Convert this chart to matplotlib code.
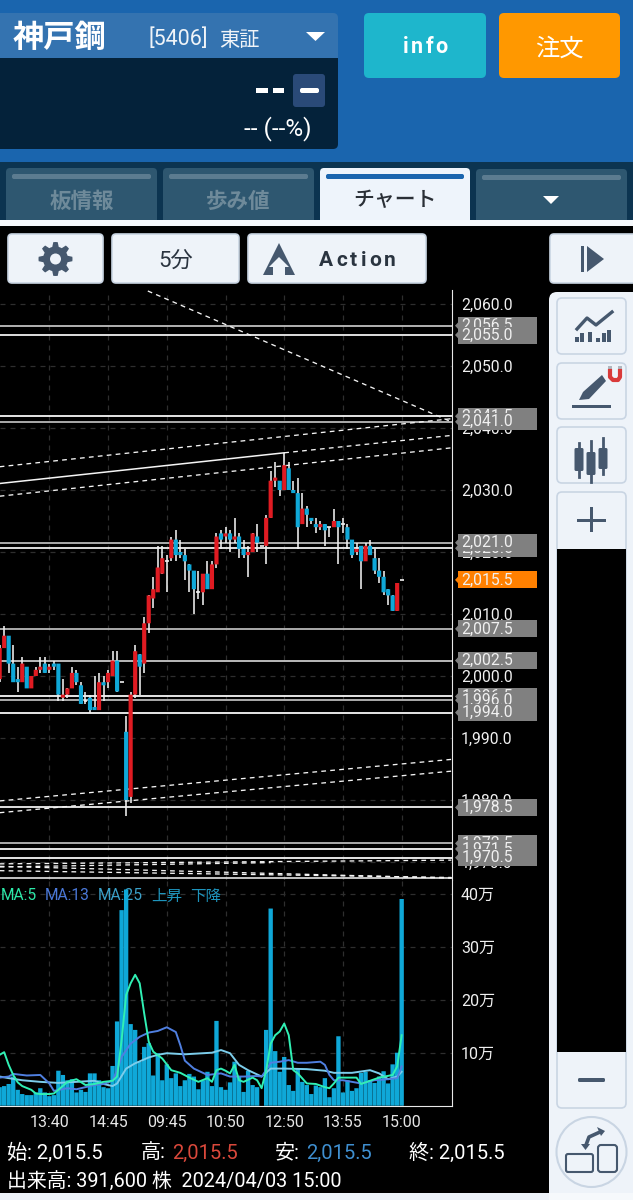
import numpy as np
import matplotlib
matplotlib.use('Agg')
import matplotlib.pyplot as plt
from matplotlib.patches import FancyBboxPatch, Rectangle, Polygon, Circle

plt.rcParams['font.family'] = ['Roboto', 'Noto Sans CJK JP', 'DejaVu Sans']

# 5 minute bars
opens = [1999.5, 2004.5, 2006.5, 2002, 1999.5, 1999, 2001.5, 1998, 2000, 2001, 2002, 2001, 2002, 2002, 1996.5,
         1997, 1998, 2000.5, 1998.5, 1996, 1996.5, 1995, 1994.5, 1999, 1999, 2000, 2002.5, 1999, 1991, 1980.5,
         1997, 2003.5, 2002, 2008.5, 2012.5, 2013.5, 2016.5, 2018.5, 2019, 2022, 2020, 2019.5, 2018, 2017, 2013.5,
         2013.5, 2016.5, 2014, 2018, 2023, 2022.5, 2023, 2022, 2022.5, 2020.5, 2019.5, 2020, 2022.5, 2021, 2021,
         2025.5, 2031.5, 2031.5, 2030, 2033.5, 2030, 2029.5, 2024.5, 2027, 2025.5, 2024.5, 2024, 2024.5, 2024, 2024,
         2025, 2024.5, 2024, 2022, 2020, 2021, 2018.5, 2021, 2019, 2017, 2016, 2014, 2013, 2010.5, 2015.5]
highs = [2005, 2008, 2006.5, 2005, 2001.5, 2003, 2001.5, 2000, 2001.5, 2003, 2003, 2002, 2002.5, 2002, 1999.5,
         1998, 2001.5, 2001, 1999, 1997.5, 1997, 2000, 2000.5, 2000, 2001, 2004, 2004, 1999, 1993.5, 1997.5,
         2005, 2003.5, 2009.5, 2013, 2016, 2021, 2021, 2019.5, 2022.5, 2023.5, 2022, 2020.5, 2018, 2017, 2017,
         2016.5, 2018.5, 2018.5, 2023, 2023.5, 2024, 2023.5, 2025.5, 2023, 2022, 2021, 2023, 2024.5, 2021, 2026,
         2033, 2034.5, 2031.5, 2036, 2034.5, 2031.5, 2032, 2029.5, 2027.5, 2025.5, 2025.5, 2025, 2024.5, 2024, 2027,
         2025, 2025.5, 2024.5, 2022, 2021.5, 2021, 2021.5, 2022, 2020.5, 2019, 2017, 2014, 2013, 2015, 2015.5]
lows = [1999, 2004.5, 2000.5, 1999, 1997.5, 1999, 1998, 1998, 2000, 2000.5, 2000.5, 2000.5, 2001, 1996, 1996,
        1996.5, 1998, 1998.5, 1995.5, 1995.5, 1994, 1994.5, 1994.5, 1996, 1998, 2000, 1997.5, 1999, 1977.5, 1979.5,
        1996.5, 1997, 2000.5, 2007, 2011, 2013.5, 2016.5, 2013.5, 2018.5, 2018.5, 2019, 2015.5, 2013.5, 2010, 2012.5,
        2011.5, 2014, 2014, 2017.5, 2020.5, 2021.5, 2020, 2021.5, 2019, 2019, 2016, 2020, 2020, 2021, 2018,
        2025.5, 2030.5, 2029, 2030, 2030, 2029.5, 2020.5, 2024.5, 2024, 2024.5, 2023, 2023.5, 2021, 2022.5, 2024,
        2018, 2023, 2020.5, 2019, 2019.5, 2014, 2018.5, 2019.5, 2016.5, 2015, 2013, 2011.5, 2010.5, 2010.5, 2015.5]
closes = [2004.5, 2006.5, 2002, 1999, 1999, 2002, 1998, 2000, 2001, 2001.5, 2000.5, 2001.5, 2001.5, 1997, 1997,
          1998, 2000.5, 1999, 1995.5, 1996, 1994.5, 1994.5, 1999, 1998.5, 2000.5, 2002.5, 1997.5, 1999, 1980, 1997,
          2004, 2001.5, 2008.5, 2013, 2014, 2017.5, 2019, 2018.5, 2022, 2019.5, 2019.5, 2018.5, 2017, 2014, 2013.5,
          2016.5, 2014, 2018, 2022.5, 2022, 2023, 2022, 2022.5, 2020.5, 2019.5, 2020, 2023, 2021.5, 2021, 2025.5,
          2031.5, 2032, 2030, 2034, 2030, 2029.5, 2024, 2027, 2026, 2025, 2024, 2024.5, 2023.5, 2024, 2025,
          2024, 2024.5, 2022, 2019.5, 2020.5, 2018.5, 2021, 2019.5, 2017, 2016, 2013.5, 2013, 2010.5, 2015, 2015.5]

# volume in 万株
volumes = [.35, .37, .41, .55, .30, .22, .20, .20, .25, .33, .25, .18, .20, .66, .58, .48, .50, .25, .30, .26,
           .61, .61, .48, .35, .33, .75, 1.59, 3.69, 4.08, 1.54, 1.43, .83, 1.11, 1.18, .57, .99, .48, .78, .52, .61,
           .37, .48, .60, .55, .31, .48, .64, .37, 1.60, .35, .30, .44, .83, .55, .26, .66, .39, .35, 0, 1.43,
           3.72, 1.03, .64, .92, .39, .28, .69, .45, .39, .22, .38, .35, .52, .16, .33, 1.31, .25, .48, .28, .33,
           .62, .64, .48, .43, .55, .65, .42, .78, 1.00, 3.90]

ma5_idx = [0, 1, 2, 3, 4, 5, 7, 8, 9, 11, 12, 13, 15, 17, 19, 21, 23, 25, 26, 27, 28, 29, 30, 31, 32, 33, 34, 36, 38, 40,
           42, 44, 46, 47, 48, 49, 50, 51, 52, 53, 54, 56, 57, 58, 59, 60, 61, 62, 63, 64, 65, 66, 68, 70, 72, 73, 74,
           75, 77, 79, 80, 82, 84, 87, 88, 89]
ma5_val = [.96, 1.01, .77, .58, .44, .37, .30, .23, .22, .22, .23, .30, .45, .50, .39, .41, .45, .47, .55, 1.24, 2.09,
           2.31, 2.47, 2.31, 1.74, 1.21, 1.02, .89, .67, .62, .53, .45, .52, .45, .67, .70, .66, .61, .77, .48, .45,
           .53, .48, .33, .67, 1.17, 1.33, 1.40, 1.55, 1.33, .67, .61, .42, .41, .35, .33, .42, .53, .53, .53, .41,
           .47, .53, .58, .74, 1.33]
ma13_idx = [0, 2, 3, 6, 9, 11, 12, 15, 17, 19, 21, 23, 25, 26, 27, 29, 31, 33, 35, 37, 39, 40, 41, 43, 46, 48, 49, 51,
            54, 57, 58, 59, 60, 62, 64, 66, 68, 71, 72, 73, 74, 76, 78, 80, 83, 86, 88, 89]
ma13_val = [.53, .55, .60, .57, .58, .42, .28, .33, .31, .35, .39, .41, .47, .67, .92, 1.17, 1.30, 1.38, 1.41, 1.48,
            1.39, 1.14, .85, .70, .58, .60, .61, .55, .55, .56, .55, .67, .81, .83, .86, .81, .81, .83, .77, .58,
            .48, .48, .45, .42, .48, .50, .52, .74]
ma25_idx = [0, 2, 5, 9, 13, 17, 21, 23, 25, 26, 28, 30, 33, 35, 37, 41, 47, 49, 51, 53, 55, 58, 60, 63, 68, 72, 74, 78,
            82, 84, 86, 88, 89]
ma25_val = [.55, .52, .48, .45, .43, .45, .47, .41, .37, .42, .70, .80, .91, .96, .99, .97, 1.0, 1.05, .99, .77, .67,
            .55, .70, .70, .69, .66, .62, .62, .67, .61, .50, .55, .64]

price_ticks = [2060, 2050, 2040, 2030, 2020, 2010, 2000, 1990, 1980, 1970]
price_tick_labels = ['2,060.0', '2,050.0', '2,040.0', '2,030.0', '2,020.0', '2,010.0', '2,000.0', '1,990.0',
                     '1,980.0', '1,970.0']
volume_ticks = [1, 2, 3, 4]
volume_tick_labels = ['10万', '20万', '30万', '40万']
time_ticks = [11, 24, 37, 50, 63, 76, 89]
time_labels = ['13:40', '14:45', '09:45', '10:50', '12:50', '13:55', '15:00']

# drawn levels and their tags, in drawing order
level_prices = [2056.5, 2055, 2041.9, 2041, 2020.6, 2021.5, 2007.6, 2002.5, 1996.7, 1996.1, 1994.1, 1978.8,
                1973, 1972.1, 1970.7]
level_labels = ['2,056.5', '2,055.0', '2,041.5', '2,041.0', '2,020.5', '2,021.0', '2,007.5', '2,002.5', '1,996.5',
                '1,996.0', '1,994.0', '1,978.5', '1,972.5', '1,971.5', '1,970.5']
level_colors = ['#C0C0C0', '#F0F0F0', '#F8F8F8', '#B8B8B8', '#F0F0F0', '#B8B8B8', '#B8B8B8', '#C8C8C8', '#F8F8F8',
                '#B8B8B8', '#F8F8F8', '#F0F0F0', '#B8B8B8', '#F8F8F8', '#F8F8F8']
floor_level = 1967.4
last_price = 2015.5

# trend lines: bar index and price at both ends
trend_start = [(32.8, 2062.1), (0, 2033.75), (63, 2036.0), (0, 2029.0), (0, 1979.85), (0, 1977.95), (0, 1969.7),
               (0, 1969.2), (0, 1969.3), (0, 1968.6)]
trend_end = [(100, 2041.0), (100, 2041.5), (100, 2038.8), (100, 2036.8), (100, 1986.55), (100, 1984.65), (100, 1970.3),
             (60, 1969.9), (100, 1967.4), (100, 1967.5)]
solid_start = (0, 2031.05)
solid_end = (63, 2036.0)

W, H = 633, 1200
BAR_PX = 4.517
LAST_BAR_X = 401.67
RED = '#E01B22'
BLUE = '#0FA8D8'
PANEL = '#EEF3F9'
EDGE = '#C9D5E3'
ICON = '#46586E'
CJK = ['Noto Sans CJK JP', 'DejaVu Sans']

fig = plt.figure(figsize=(W / 100, H / 100), dpi=100, facecolor='black')


def axes_px(x0, y0, x1, y1):
    return fig.add_axes([x0 / W, 1 - y1 / H, (x1 - x0) / W, (y1 - y0) / H])


def price_at(y):
    return 2060 - (y - 304) / 6.2


ui = axes_px(0, 0, W, H)
ui.set_xlim(0, W)
ui.set_ylim(H, 0)
ui.axis('off')


def box(x0, y0, x1, y1, fc, ec='none', r=4, lw=1.2):
    ui.add_patch(FancyBboxPatch((x0, y0), x1 - x0, y1 - y0, boxstyle=f'round,pad=0,rounding_size={r}',
                                fc=fc, ec=ec, lw=lw))


def rect(x0, y0, x1, y1, fc):
    ui.add_patch(Rectangle((x0, y0), x1 - x0, y1 - y0, fc=fc, ec='none'))


def poly(points, fc):
    ui.add_patch(Polygon(points, closed=True, fc=fc, ec='none'))


def label(x, y, s, size, color='white', ha='center', weight='normal', family=None):
    return ui.text(x, y, s, fontsize=size, color=color, ha=ha, va='center', weight=weight, family=family or CJK)


def spaced(x0, x1, y, s, size, color, weight='normal'):
    # the app draws these with wide letter spacing: set the letters one by one
    renderer = fig.canvas.get_renderer()
    parts = [label(x0, y, ch, size, color=color, ha='left', weight=weight, family=['Roboto']) for ch in s]
    widths = [p.get_window_extent(renderer).width for p in parts]
    gap = (x1 - x0 - sum(widths)) / (len(s) - 1)
    x = x0
    for p, w in zip(parts, widths):
        p.set_x(x)
        x += w + gap


# header
rect(0, 0, W, 162, '#1A65AE')
box(-10, 13, 338, 70, '#3473B0', r=5)
box(-10, 58, 338, 149, '#04223A', r=5)
rect(-10, 58, 338, 70, '#04223A')
label(13, 38, '神戸鋼', 22.5, ha='left', weight='bold')
label(148, 39, '[5406]', 15.5, ha='left', color='#F0F4F8', family=['Roboto'])
label(239, 41, '東証', 14.6, ha='center', color='#F0F4F8')
poly([(306, 32), (325, 32), (315.5, 41)], 'white')
rect(256, 88, 268, 93, 'white')
rect(273, 88, 284, 93, 'white')
box(293, 74, 325, 107, '#2A4A78', r=3)
box(300, 88, 319, 93, 'white', r=2)
label(312, 129, '-- (--%)', 17.5, ha='right', family=['Roboto'])
box(364, 13, 486, 78, '#1EB6CC', r=5)
spaced(403, 448, 47, 'info', 15.5, 'white', weight='bold')
box(499, 13, 620, 78, '#FF9800', r=5)
label(559, 49, '注文', 17.5)

# tabs
rect(0, 162, W, 220, '#0C3450')
for x0, x1, s in [(6, 157, '板情報'), (163, 314, '歩み値')]:
    box(x0, 168, x1, 226, '#2E5770', r=4)
    box(x0 + 6, 174, x1 - 6, 179, '#5C7C90', r=2)
    label((x0 + x1) / 2, 201, s, 15.5, color='#6E8A9A', weight='bold')
box(320, 168, 470, 226, '#EEF4FB', r=4)
box(326, 174, 464, 179, '#1A65AE', r=2)
label(395, 200, 'チャート', 15, color='#2A2F36', weight='medium')
box(476, 169, 627, 226, '#2E5770', r=4)
box(482, 175, 621, 180, '#5C7C90', r=2)
poly([(543, 196), (559, 196), (551, 204)], 'white')
rect(0, 220, W, 226, '#F6F9FC')
rect(0, 226, W, H, 'black')

# toolbar
for x0, x1 in [(8, 103), (112, 239), (248, 426), (550, 640)]:
    box(x0, 234, x1, 283, PANEL, ec=EDGE)
angles = np.linspace(0, 2 * np.pi, 48, endpoint=False)
radius = np.where((angles * 8 / (2 * np.pi) + 0.25) % 1 < 0.5, 17, 12.5)
poly(np.column_stack([55.5 + radius * np.sin(angles), 259 + radius * np.cos(angles)]), ICON)
ui.add_patch(Circle((55.5, 259), 5.5, fc=PANEL, ec='none'))
label(176, 261, '5分', 16, color='#2A3440', family=['Roboto', 'Noto Sans CJK JP'])
poly([(279, 243), (295, 275), (285, 275), (285, 267), (289, 267), (279, 257), (269, 267), (273, 267), (273, 275),
      (263, 275)], ICON)
spaced(319, 396, 260, 'Action', 15, '#2A3440', weight='bold')
rect(581, 246, 584, 272, ICON)
poly([(587, 246), (604, 259), (587, 272)], ICON)

# side panel
box(549, 292, 660, 1210, PANEL, r=8)
for y0, y1 in [(298, 354), (363, 419), (427, 483), (492, 1108)]:
    box(557, y0, 626, y1, PANEL, ec=EDGE, r=5)
# chart icon
ui.plot([577, 587, 596, 612], [329, 318, 325, 312], color=ICON, lw=2.4)
for x, y in [(577, 337), (582, 333), (590, 332), (598, 338), (604, 333), (609, 330)]:
    rect(x - 2, y, x + 2, 342, ICON)
# pen icon
poly([(579, 400), (583, 392), (602, 375), (606, 381), (589, 399)], ICON)
rect(572, 405, 611, 408, ICON)
ui.plot([610, 610, 613, 618, 620, 620], [371, 377, 380, 380, 377, 371], color='#D93A3A', lw=3)
rect(608, 366, 612, 371, '#B0B8C0')
rect(618, 366, 622, 371, '#B0B8C0')
# candle icon
for x, y0, y1, t0, t1 in [(579, 448, 471, 443, 477), (591, 452, 475, 441, 482), (603, 448, 469, 438, 474)]:
    ui.plot([x, x], [t0, t1], color=ICON, lw=2)
    box(x - 4.5, y0, x + 4.5, y1, ICON, r=1.5)
rect(577, 518.5, 606, 521.5, ICON)
rect(590, 507, 593, 532, ICON)
rect(557, 549, 626, 1052, 'black')
box(578, 1078, 605, 1082, ICON, r=1.5)
# rotate button
ui.add_patch(Circle((591.5, 1152), 35, fc=PANEL, ec=EDGE, lw=1.5))
box(566, 1154, 593, 1172, PANEL, ec=ICON, r=2, lw=1.5)
box(598, 1145, 617, 1172, PANEL, ec=ICON, r=3, lw=1.5)
ui.plot([586, 589, 600], [1145, 1137, 1132], color=ICON, lw=2.6)
poly([(581, 1144), (590, 1144), (585.5, 1150)], ICON)
poly([(597, 1127), (601, 1136), (605, 1131)], ICON)
rect(0, 1193, 549, H, '#EEF3F9')
rect(549, 1193, W, H, '#F6F9FC')

# footer
label(7, 1153, '始: 2,015.5', 14.5, ha='left', family=['Roboto', 'Noto Sans CJK JP'])
label(141, 1153, '高:', 14.5, ha='left', family=['Roboto', 'Noto Sans CJK JP'])
label(172, 1153, '2,015.5', 14.5, ha='left', color='#D9483B', family=['Roboto'])
label(275, 1153, '安:', 14.5, ha='left', family=['Roboto', 'Noto Sans CJK JP'])
label(306, 1153, '2,015.5', 14.5, ha='left', color='#3F8FD0', family=['Roboto'])
label(409, 1153, '終: 2,015.5', 14.5, ha='left', family=['Roboto', 'Noto Sans CJK JP'])
label(7, 1182, '出来高: 391,600 株  2024/04/03 15:00', 14.3, ha='left', family=['Roboto', 'Noto Sans CJK JP'])

# price chart
idx = np.arange(len(opens))
xlim = (89 - LAST_BAR_X / BAR_PX, 89 + (451.5 - LAST_BAR_X) / BAR_PX)
ax = axes_px(0, 290, 451.5, 880)
ax.set_facecolor('black')
ax.set_xlim(*xlim)
ax.set_ylim(price_at(880), price_at(290))
ax.set_axisbelow(True)
ax.grid(True, color='#2E2E2E', ls=(0, (4, 4)), lw=0.9)
ax.set_xticks(time_ticks)
ax.set_yticks(price_ticks)
ax.set_yticklabels(price_tick_labels)
ax.tick_params(axis='x', bottom=False, labelbottom=False, length=0)
ax.tick_params(axis='y', left=False, labelleft=False, right=False, labelright=True, length=0, pad=6.8, labelsize=11.3,
               labelcolor='#F0F0F0')
for name, spine in ax.spines.items():
    spine.set_visible(name == 'right')
    spine.set_color('#E8E8E8')

for p, c in zip(level_prices, level_colors):
    ax.axhline(p, color=c, lw=1.3, zorder=2)
ax.axhline(floor_level, color='#F8F8F8', lw=1.1, zorder=2)
for (x0, p0), (x1, p1) in zip(trend_start, trend_end):
    ax.plot([x0, x1], [p0, p1], color='#F4F4F4', lw=0.95, ls=(0, (3.6, 3.2)), zorder=2)
ax.plot([solid_start[0], solid_end[0]], [solid_start[1], solid_end[1]], color='#F4F4F4', lw=1.1, zorder=2)

o, h, l, c = map(np.array, (opens, highs, lows, closes))
ax.vlines(idx, l, h, color='#F0F0F0', lw=1.15, zorder=3)
up = c >= o
candles = ax.bar(idx, np.abs(c - o), bottom=np.minimum(o, c), width=0.92, color=np.where(up, RED, BLUE), lw=0, zorder=4)
for patch in candles:
    patch.set_snap(False)
flat = c == o
ax.hlines(c[flat], idx[flat] - 0.43, idx[flat] + 0.43, color='#F0F0F0', lw=1.2, zorder=4)

# price tags sit over the tick labels, later tags over earlier ones
tags = axes_px(451.5, 290, 549, 880)
tags.patch.set_alpha(0)
tags.axis('off')
tags.set_xlim(451.5, 549)
tags.set_ylim(ax.get_ylim())
tag_half = 8.5 / 6.2


def price_tag(p, s, color, z):
    tags.add_patch(Rectangle((458.5, p - tag_half), 78.5, 2 * tag_half, fc=color, ec='none', zorder=z))
    tags.add_patch(Polygon([(455, p), (458.5, p + 0.6), (458.5, p - 0.6)], closed=True, fc=color, ec='none', zorder=z))
    tags.text(461.5, p, s, fontsize=11.3, color='#F0F0F0', va='center', ha='left', zorder=z + 0.5)


for n, (p, s) in enumerate(zip(level_prices, level_labels)):
    price_tag(p, s, '#808080', 2 + n)
price_tag(last_price, '2,015.5', '#FF8000', 30)

# volume chart
vol = axes_px(0, 880, 451.5, 1105.7)
vol.set_facecolor('black')
vol.set_xlim(*xlim)
vol.set_ylim(0, 225.7 / 53)
vol.set_axisbelow(True)
vol.grid(True, color='#2E2E2E', ls=(0, (4, 4)), lw=0.9)
vol.set_xticks(time_ticks)
vol.set_xticklabels(time_labels)
vol.set_yticks(volume_ticks)
vol.set_yticklabels(volume_tick_labels)
vol.tick_params(axis='x', bottom=False, length=0, labelsize=11.5, labelcolor='#E6E6E6', pad=7)
vol.tick_params(axis='y', left=False, labelleft=False, right=False, labelright=True, length=0, pad=6.8, labelsize=11.5,
                labelcolor='#F0F0F0')
for name, spine in vol.spines.items():
    spine.set_visible(name in ('right', 'bottom'))
    spine.set_color('#E8E8E8')

for x, s, col in [(1, 'MA:5', '#2CE8A8'), (45, 'MA:13', '#4A78D8'), (98, 'MA:25', '#3AA0C8'), (151, '上昇', '#1E94BC'),
                  (190, '下降', '#1E94BC')]:
    vol.annotate(s, xy=(x, 896), xycoords=ui.transData, fontsize=11.2, color=col, va='center', ha='left', zorder=1)
bars = vol.bar(idx, volumes, width=0.96, color=BLUE, lw=0, zorder=2)
for patch in bars:
    patch.set_snap(False)
vol.plot(ma25_idx, ma25_val, color='#7CCDEB', lw=1.4, zorder=3)
vol.plot(ma13_idx, ma13_val, color='#4F7FE0', lw=1.4, zorder=4)
vol.plot(ma5_idx, ma5_val, color='#30F0B4', lw=1.4, zorder=5)

fig.savefig('out.png', dpi=100, facecolor='black')
